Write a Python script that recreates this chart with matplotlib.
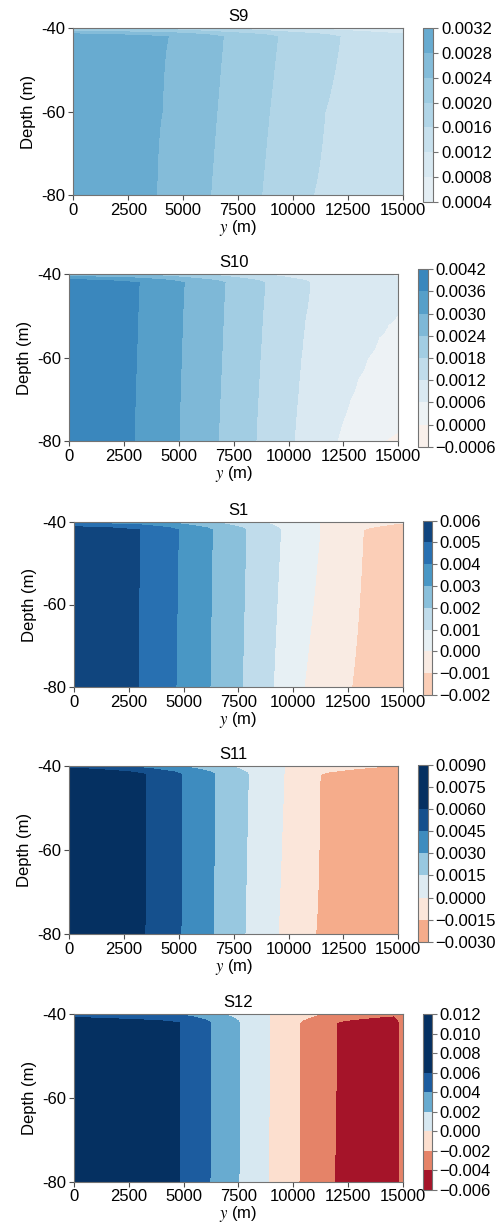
import numpy as np
import matplotlib.pyplot as plt
from matplotlib.colors import Normalize

plt.rcParams['font.family'] = ['Liberation Sans', 'DejaVu Sans']
plt.rcParams['font.size'] = 12
plt.rcParams['mathtext.fontset'] = 'stix'

y_ticks = [0, 2500, 5000, 7500, 10000, 12500, 15000]
depth_ticks = [-40, -60, -80]
depth_labels = ['-40', '-60', '-80']

# thin surface layer: share of the value kept toward the top boundary
surface_depth = [-42, -41.5, -41, -40.5, -40]
surface_factor = [1.0, 0.95, 0.85, 0.75, 0.65]

# S9
s9_levels = [0.0004, 0.0008, 0.0012, 0.0016, 0.0020, 0.0024, 0.0028, 0.0032]
s9_depth = [-80, -60, -42]
s9_y = [[0, 3795, 6255, 8578, 10930, 15000],
        [0, 4050, 6540, 8930, 11460, 15000],
        [0, 4326, 6831, 9305, 12146, 15000]]
s9_val = [[0.0030, 0.0028, 0.0024, 0.0020, 0.0016, 0.00125],
          [0.00302, 0.0028, 0.0024, 0.0020, 0.0016, 0.00128],
          [0.00305, 0.0028, 0.0024, 0.0020, 0.0016, 0.0013]]

# S10
s10_levels = [-0.0006, 0.0, 0.0006, 0.0012, 0.0018, 0.0024, 0.0030, 0.0036, 0.0042]
s10_depth = [-80, -75, -70, -65, -60, -55, -52, -50, -42]
s10_y = [[0, 2950, 5000, 6800, 8510, 10250, 12200, 14350, 15000],
         [0, 2980, 5030, 6830, 8550, 10320, 12480, 15000],
         [0, 3010, 5050, 6870, 8600, 10400, 12800, 15000],
         [0, 3040, 5080, 6910, 8650, 10480, 13150, 15000],
         [0, 3070, 5110, 6950, 8700, 10560, 13600, 15000],
         [0, 3100, 5140, 6990, 8760, 10660, 14120, 15000],
         [0, 3120, 5160, 7010, 8790, 10720, 14540, 15000],
         [0, 3130, 5170, 7020, 8810, 10760, 14900, 15000],
         [0, 3190, 5240, 7100, 8920, 10970, 15000]]
s10_val = [[0.0040, 0.0036, 0.0030, 0.0024, 0.0018, 0.0012, 0.0006, 0.0, -0.0001],
           [0.0040, 0.0036, 0.0030, 0.0024, 0.0018, 0.0012, 0.0006, 0.00012],
           [0.0040, 0.0036, 0.0030, 0.0024, 0.0018, 0.0012, 0.0006, 0.0003],
           [0.0040, 0.0036, 0.0030, 0.0024, 0.0018, 0.0012, 0.0006, 0.0004],
           [0.0040, 0.0036, 0.0030, 0.0024, 0.0018, 0.0012, 0.0006, 0.00047],
           [0.0040, 0.0036, 0.0030, 0.0024, 0.0018, 0.0012, 0.0006, 0.00053],
           [0.0040, 0.0036, 0.0030, 0.0024, 0.0018, 0.0012, 0.0006, 0.00057],
           [0.0040, 0.0036, 0.0030, 0.0024, 0.0018, 0.0012, 0.0006, 0.000595],
           [0.0040, 0.0036, 0.0030, 0.0024, 0.0018, 0.0012, 0.0008]]

# S1
s1_levels = [-0.002, -0.001, 0.0, 0.001, 0.002, 0.003, 0.004, 0.005, 0.006]
s1_depth = [-80, -42]
s1_y = [[0, 2936, 4654, 6206, 7681, 9096, 10495, 12670, 15000],
        [0, 3012, 4761, 6312, 7848, 9430, 11225, 13202, 15000]]
s1_val = [[0.0056, 0.005, 0.004, 0.003, 0.002, 0.001, 0.0, -0.001, -0.0017],
          [0.0056, 0.005, 0.004, 0.003, 0.002, 0.001, 0.0, -0.001, -0.0014]]

# S11
s11_levels = [-0.0030, -0.0015, 0.0, 0.0015, 0.0030, 0.0045, 0.0060, 0.0075, 0.0090]
s11_depth = [-80, -42]
s11_y = [[0, 1018, 3450, 5092, 6566, 8010, 9530, 11233, 15000],
         [0, 1018, 3480, 5122, 6642, 8162, 9789, 11430, 15000]]
s11_val = [[0.0082, 0.0075, 0.0060, 0.0045, 0.0030, 0.0015, 0.0, -0.0015, -0.0026],
           [0.0080, 0.0075, 0.0060, 0.0045, 0.0030, 0.0015, 0.0, -0.0015, -0.0024]]

# S12
s12_levels = [-0.006, -0.004, -0.002, 0.0, 0.002, 0.004, 0.006, 0.008, 0.010, 0.012]
s12_depth = [-80, -42]
s12_y = [[0, 1260, 3320, 4837, 6206, 7529, 8868, 10267, 11879, 14600, 15000],
         [0, 4837, 6236, 7544, 8944, 10312, 11985, 14600, 15000]]
s12_val = [[0.0108, 0.010, 0.008, 0.006, 0.004, 0.002, 0.0, -0.002, -0.004, -0.0055, -0.003],
           [0.0075, 0.006, 0.004, 0.002, 0.0, -0.002, -0.004, -0.0055, -0.003]]

panels = [
    ('S9', s9_levels, s9_depth, s9_y, s9_val, 4),
    ('S10', s10_levels, s10_depth, s10_y, s10_val, 4),
    ('S1', s1_levels, s1_depth, s1_y, s1_val, 3),
    ('S11', s11_levels, s11_depth, s11_y, s11_val, 4),
    ('S12', s12_levels, s12_depth, s12_y, s12_val, 3),
]

# pixel boxes (x0, y0, x1, y1) of each map and its colorbar
W, H = 498, 1226
map_boxes = [(73.3, 28.3, 402.7, 195.0), (69.3, 274.3, 398.3, 441.0),
             (74.0, 521.7, 402.7, 687.3), (69.3, 766.0, 398.3, 934.0),
             (74.0, 1014.3, 402.7, 1181.7)]
bar_boxes = [(423.3, 28.3, 433.3, 201.7), (418.3, 269.3, 427.7, 446.7),
             (422.7, 520.7, 432.0, 695.0), (418.3, 765.0, 427.7, 941.7),
             (422.7, 1014.3, 432.0, 1190.0)]


def fig_box(b):
    x0, y0, x1, y1 = b
    return [x0 / W, 1 - y1 / H, (x1 - x0) / W, (y1 - y0) / H]


def build_field(depth, ys, vals):
    y = np.linspace(0, 15000, 601)
    rows = [np.interp(y, yk, vk) for yk, vk in zip(ys, vals)]
    z = list(depth)
    top = rows[-1]
    for d, f in zip(surface_depth[1:], surface_factor[1:]):
        rows.append(top * f)
        z.append(d)
    return y, np.array(z), np.array(rows)


def fmt(v, nd):
    s = f'{v:.{nd}f}'
    return s.replace('-', '\u2212')


norm = Normalize(vmin=-0.006, vmax=0.006)
edge = '0.45'

fig = plt.figure(figsize=(W / 100, H / 100), dpi=100)

for (name, levels, depth, ys, vals, nd), mb, bb in zip(panels, map_boxes, bar_boxes):
    ax = fig.add_axes(fig_box(mb))
    y, z, field = build_field(depth, ys, vals)
    cs = ax.contourf(y, z, field, levels=levels, cmap='RdBu', norm=norm)
    ax.set_xlim(0, 15000)
    ax.set_ylim(-80, -40)
    ax.set_xticks(y_ticks)
    ax.set_yticks(depth_ticks, depth_labels)
    ax.tick_params(length=3.5, width=0.8, color='0.3', pad=2)
    for sp in ax.spines.values():
        sp.set_edgecolor(edge)
        sp.set_linewidth(0.8)
    ax.set_title(name, fontsize=12, pad=5)
    ax.set_ylabel('Depth (m)', labelpad=4)
    ax.set_xlabel(r'$y$ (m)', labelpad=0)

    cax = fig.add_axes(fig_box(bb))
    cb = fig.colorbar(cs, cax=cax)
    cb.set_ticks(levels, labels=[fmt(v, nd) for v in levels])
    cb.outline.set_edgecolor(edge)
    cb.outline.set_linewidth(0.8)
    cax.tick_params(length=3.5, width=0.8, color='0.45', pad=2)

fig.savefig('out.png', dpi=100)
